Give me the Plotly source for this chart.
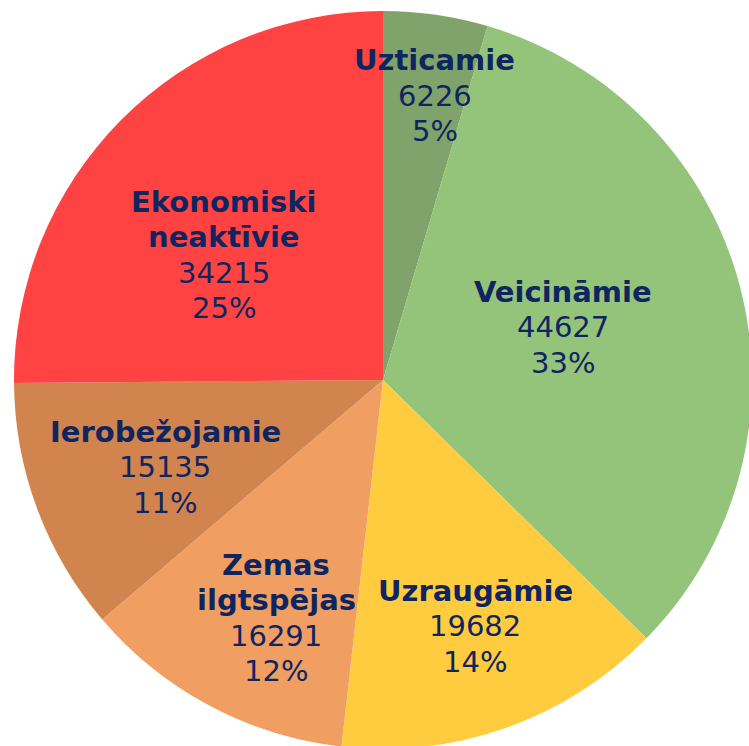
import plotly.graph_objects as go

labels = ['Uzticamie', 'Veicināmie', 'Uzraugāmie', 'Zemas<br>ilgtspējas',
          'Ierobežojamie', 'Ekonomiski<br>neaktīvie']
values = [6226, 44627, 19682, 16291, 15135, 34215]
colors = ['#7FA36A', '#93C47A', '#FFCC40', '#F09E62', '#D2844E', '#FF4343']

W, H = 760, 760
TEXT_COLOR = '#0F2560'
FONT = 'DejaVu Sans, Verdana, sans-serif'
LINE_GAP = 35.5

# label centres in page pixels (x, y from top)
label_pos = [(435, 96), (563, 327), (475, 626), (276, 618), (165, 467), (224, 255)]

total = sum(values)

fig = go.Figure()
fig.add_trace(go.Pie(
    labels=labels,
    values=values,
    sort=False,
    direction='clockwise',
    rotation=0,
    marker=dict(colors=colors, line=dict(width=0)),
    textinfo='none',
    hoverinfo='label+value+percent',
    showlegend=False,
    domain=dict(x=[14 / W, 752 / W], y=[1 - 749 / H, 1 - 11 / H]),
))

for lab, val, (px, py) in zip(labels, values, label_pos):
    pct = round(val / total * 100)
    lines = [f'<b>{t}</b>' for t in lab.split('<br>')] + [str(val), f'{pct}%']
    n = len(lines)
    for i, t in enumerate(lines):
        fig.add_annotation(
            x=px / W, y=1 - py / H, xref='paper', yref='paper',
            text=t, showarrow=False, xanchor='center', yanchor='middle',
            yshift=-(i - (n - 1) / 2) * LINE_GAP,
            font=dict(family=FONT, size=29, color=TEXT_COLOR),
        )

fig.update_layout(
    width=W, height=H,
    margin=dict(l=0, r=0, t=0, b=0),
    paper_bgcolor='white',
    plot_bgcolor='white',
)

# drop the default body margin and scrollbars so the pie sits at the page corner
fig.write_html('out.html', config={'displayModeBar': False}, post_script=(
    "document.body.style.margin='0';"
    "document.body.style.overflow='hidden';"
    "document.documentElement.style.overflow='hidden';"
))
